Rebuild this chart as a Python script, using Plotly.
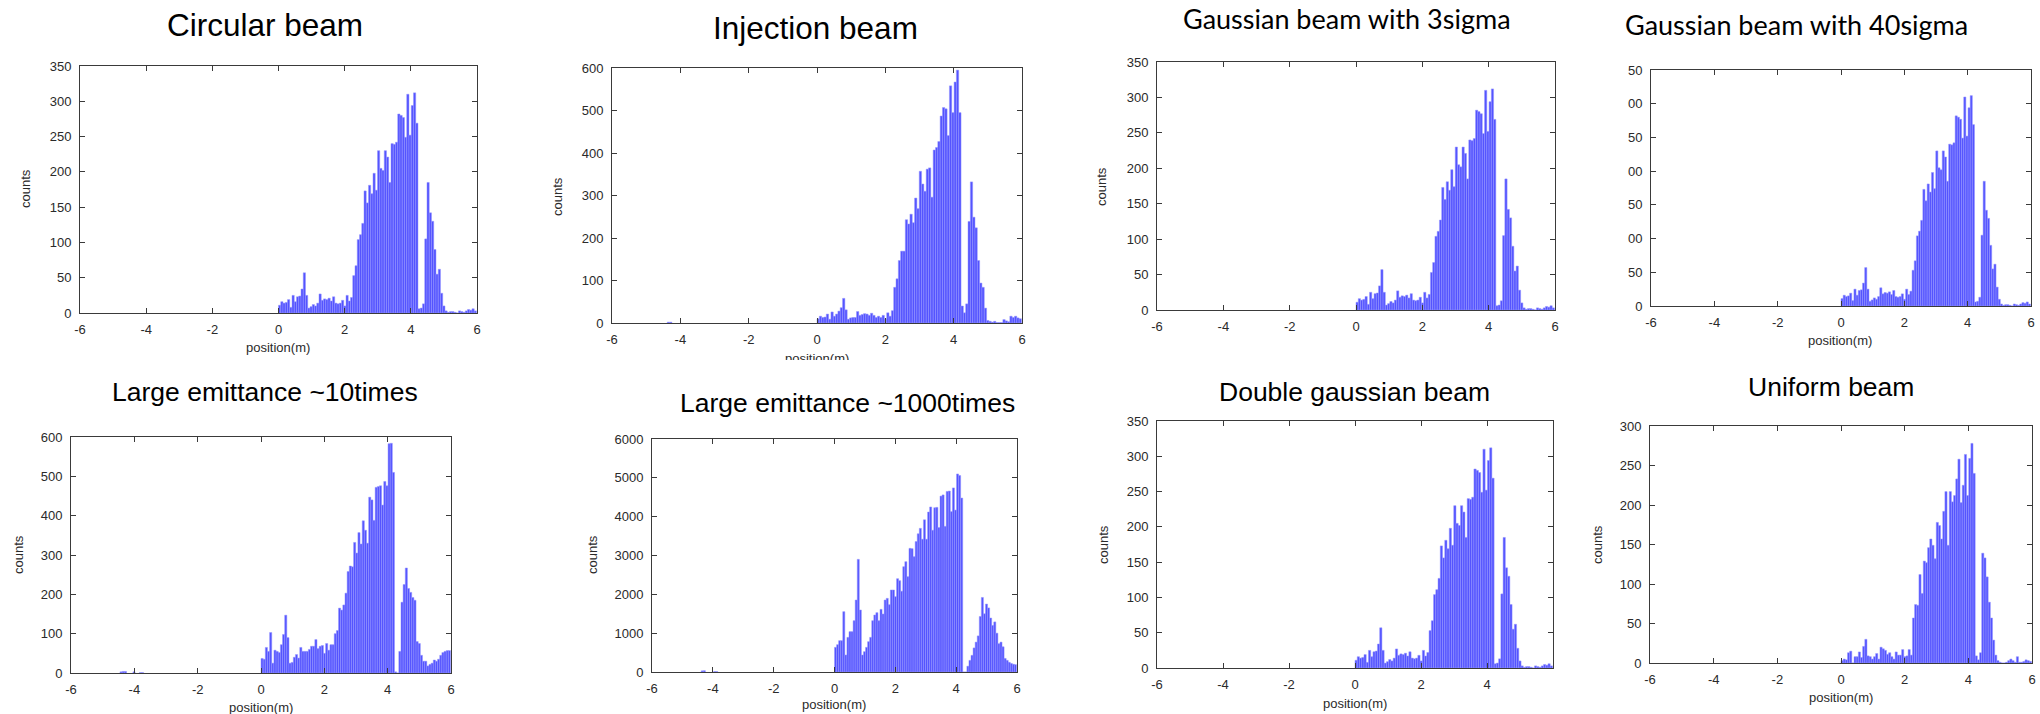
import plotly.graph_objects as go

# ---------------- data ----------------
BIN_START = 0.0
BIN_WIDTH = 0.068

x_tick_vals = [-6, -4, -2, 0, 2, 4, 6]
x_tick_text = ["-6", "-4", "-2", "0", "2", "4", "6"]

circular_counts = [
    11, 16, 14, 15, 19, 8, 25, 16, 23, 24, 34, 57, 25, 7, 9, 12, 10, 14, 27, 18,
    20, 19, 21, 17, 23, 14, 13, 14, 18, 10, 25, 17, 22,
    53, 67, 104, 111, 127, 173, 156, 181, 169, 198, 174, 230, 205, 202, 230, 221,
    185, 240, 239, 242, 282, 280, 277, 249, 310, 252, 294, 312, 269,
    6, 7, 13, 105, 185, 142, 130, 90, 55, 62, 28, 10, 3, 1, 2, 2, 1, 0, 3, 2, 1, 3,
    5, 4, 6, 3]

injection_counts = [
    10, 16, 13, 14, 21, 9, 26, 16, 21, 28, 36, 58, 31, 9, 12, 13, 13, 27, 18, 20,
    22, 21, 18, 23, 18, 13, 16, 13, 18, 10, 24, 16, 29,
    84, 104, 147, 169, 169, 243, 233, 256, 236, 294, 269, 357, 327, 310, 362, 365,
    296, 407, 413, 427, 487, 507, 504, 441, 558, 495, 567, 595, 495,
    40, 24, 45, 239, 332, 249, 224, 147, 94, 84, 35, 6, 4, 2, 4, 1, 1, 1, 8, 5, 3,
    16, 13, 16, 12, 10]
injection_neg_pos = [-4.35, -4.28]
injection_neg_counts = [2, 2]

# panels 3, 4 and 7 show the same histogram as the circular beam
gauss3sigma_counts = circular_counts
gauss40sigma_counts = circular_counts
double_gauss_counts = circular_counts

emit10_counts = [
    37, 35, 65, 55, 103, 25, 58, 55, 52, 72, 98, 147, 90, 25, 27, 40, 47, 38, 65, 55,
    55, 55, 60, 68, 68, 85, 62, 68, 70, 50, 75, 58, 72,
    72, 100, 108, 165, 160, 173, 203, 258, 272, 270, 332, 305, 357, 328, 387, 363,
    330, 447, 440, 388, 472, 474, 476, 427, 487, 476, 583, 584, 510,
    3, 0, 55, 180, 225, 267, 215, 205, 192, 185, 80, 75, 45, 30, 30, 18, 22, 25, 33,
    30, 35, 45, 52, 55, 57, 57]
emit10_neg_pos = [-4.42, -4.35, -4.28, -4.01, -3.81, -3.74]
emit10_neg_counts = [3, 4, 4, 3, 1, 1]

emit1000_counts = [
    635, 704, 807, 807, 1554, 438, 893, 1039, 1039, 1322, 1854, 2901, 1597, 438, 524,
    635, 781, 893, 1322, 1468, 1528, 1322, 1614, 1494, 1854, 1897, 1734, 2112, 2112,
    1940, 2403, 2352, 2080, 2712, 2841, 2455, 3185, 3176, 2970, 3360, 3560, 3700,
    3420, 3920, 3420, 4120, 4250, 3650, 4230, 4240, 3720, 4530, 4560, 3750, 4650,
    4660, 4130, 4740, 4170, 5100, 5060, 4480, 0, 0, 150, 300, 430, 620, 770, 930,
    1430, 1920, 1500, 1750, 1650, 1390, 1200, 1290, 1000, 730, 770, 650, 350, 300,
    250, 220, 200, 190]
emit1000_neg_pos = [-4.35, -4.28, -3.94, -3.87]
emit1000_neg_counts = [30, 35, 12, 10]

uniform_counts = [
    3, 5, 4, 13, 15, 0, 8, 8, 14, 7, 21, 30, 9, 8, 5, 8, 12, 5, 20, 18, 16, 11, 13, 8,
    5, 14, 10, 10, 17, 8, 9, 17, 10,
    57, 74, 73, 112, 88, 129, 127, 146, 157, 149, 132, 178, 174, 157, 192, 217, 149,
    217, 204, 212, 233, 258, 203, 225, 264, 212, 259, 278, 240,
    9, 4, 13, 139, 133, 109, 77, 57, 29, 10, 3, 1, 0, 0, 1, 3, 5, 3, 1, 8, 1, 1, 2, 4,
    3, 2]

titles = ["Circular beam", "Injection beam", "Gaussian beam with 3sigma",
          "Gaussian beam with 40sigma", "Large emittance ~10times",
          "Large emittance ~1000times", "Double gaussian beam", "Uniform beam"]
y_label = "counts"
x_label = "position(m)"
gauss40_ytick_text = ["0", "50", "00", "50", "00", "50", "00", "50"]  # clipped labels as shown

# ---------------- layout helpers ----------------
W, H = 2040, 714
SANS = "Liberation Sans, Arial, Helvetica, sans-serif"
CAL = "Lato, Carlito, Calibri, sans-serif"


def fx(v):
    return v / W


def fy(v):
    return 1 - v / H


panels = [
    dict(counts=circular_counts, neg=None, frame=(80, 66, 477, 313), ymax=350, dtick=50,
         title=(265, 25.5, SANS, 31.5), ylab=(26, 189), xlab=(278, 347)),
    dict(counts=injection_counts, neg=(injection_neg_pos, injection_neg_counts),
         frame=(612, 68, 1022, 323), ymax=600, dtick=100,
         title=(815, 28.3, SANS, 31.5), ylab=(557, 197), xlab=(817, 358)),
    dict(counts=gauss3sigma_counts, neg=None, frame=(1157, 62, 1555, 310), ymax=350, dtick=50,
         title=(1347, 18.5, CAL, 27), ylab=(1102, 187), xlab=None),
    dict(counts=gauss40sigma_counts, neg=None, frame=(1651, 70, 2031, 306), ymax=350, dtick=50,
         title=(1796, 25, CAL, 27), ylab=None, xlab=(1840, 340), yticktext=gauss40_ytick_text),
    dict(counts=emit10_counts, neg=(emit10_neg_pos, emit10_neg_counts),
         frame=(71, 437, 451, 673), ymax=600, dtick=100,
         title=(265, 391.7, SANS, 26.5), ylab=(18, 555), xlab=(261, 707)),
    dict(counts=emit1000_counts, neg=(emit1000_neg_pos, emit1000_neg_counts),
         frame=(652, 439, 1017, 672), ymax=6000, dtick=1000,
         title=(847, 402.8, SANS, 26.5), ylab=(592, 555), xlab=(834, 704)),
    dict(counts=double_gauss_counts, neg=None, frame=(1157, 421, 1553, 668), ymax=350, dtick=50,
         title=(1354, 392, SANS, 26.5), ylab=(1103, 545), xlab=(1355, 703), hide_last_x=True),
    dict(counts=uniform_counts, neg=None, frame=(1650, 426, 2032, 663), ymax=300, dtick=50,
         title=(1831, 387.2, SANS, 26.5), ylab=(1597, 545), xlab=(1841, 697)),
]

BAR_COLOR = "rgb(84,84,255)"
BAR_LINE = "rgb(150,150,255)"
AXIS_COLOR = "#3a3a3a"
TICK_FONT = dict(family=SANS, size=13, color="#2a2a2a")

fig = go.Figure()
annotations = []
layout_axes = {}

for i, (p, title) in enumerate(zip(panels, titles), start=1):
    xa = "x" if i == 1 else f"x{i}"
    ya = "y" if i == 1 else f"y{i}"
    fig.add_trace(go.Bar(
        x0=BIN_START + BIN_WIDTH / 2, dx=BIN_WIDTH, y=p["counts"], width=BIN_WIDTH,
        marker=dict(color=BAR_COLOR, line=dict(color=BAR_LINE, width=0.5)),
        xaxis=xa, yaxis=ya, showlegend=False, hoverinfo="skip"))
    if p["neg"] is not None:
        fig.add_trace(go.Bar(
            x=p["neg"][0], y=p["neg"][1], width=BIN_WIDTH,
            marker=dict(color=BAR_COLOR, line=dict(color=BAR_LINE, width=0.5)),
            xaxis=xa, yaxis=ya, showlegend=False, hoverinfo="skip"))

    x0, y0, x1, y1 = p["frame"]
    xtt = list(x_tick_text)
    if p.get("hide_last_x"):
        xtt[-1] = ""
    yvals = list(range(0, p["ymax"] + 1, p["dtick"]))
    ytt = p.get("yticktext", [str(v) for v in yvals])

    layout_axes["xaxis" if i == 1 else f"xaxis{i}"] = dict(
        domain=[fx(x0), fx(x1)], anchor=ya, range=[-6, 6],
        tickmode="array", tickvals=x_tick_vals, ticktext=xtt,
        ticks="inside", ticklen=5, tickcolor=AXIS_COLOR, tickwidth=1,
        showline=True, linecolor=AXIS_COLOR, linewidth=1, mirror="ticks",
        showgrid=False, zeroline=False, tickfont=TICK_FONT, ticklabelstandoff=4,
        fixedrange=True, automargin=False)
    layout_axes["yaxis" if i == 1 else f"yaxis{i}"] = dict(
        domain=[fy(y1), fy(y0)], anchor=xa, range=[0, p["ymax"]],
        tickmode="array", tickvals=yvals, ticktext=ytt,
        ticks="inside", ticklen=5, tickcolor=AXIS_COLOR, tickwidth=1,
        showline=True, linecolor=AXIS_COLOR, linewidth=1, mirror="ticks",
        showgrid=False, zeroline=False, tickfont=TICK_FONT, ticklabelstandoff=5,
        fixedrange=True, automargin=False)

    tx, ty, tfam, tsize = p["title"]
    annotations.append(dict(text=title, x=fx(tx), y=fy(ty), xref="paper", yref="paper",
                            xanchor="center", yanchor="middle", showarrow=False,
                            font=dict(family=tfam, size=tsize, color="#000000")))
    if p["ylab"] is not None:
        annotations.append(dict(text=y_label, x=fx(p["ylab"][0]), y=fy(p["ylab"][1]),
                                xref="paper", yref="paper", xanchor="center",
                                yanchor="middle", textangle=-90, showarrow=False,
                                font=dict(family=SANS, size=13, color="#2a2a2a")))
    if p["xlab"] is not None:
        annotations.append(dict(text=x_label, x=fx(p["xlab"][0]), y=fy(p["xlab"][1]),
                                xref="paper", yref="paper", xanchor="center",
                                yanchor="middle", showarrow=False,
                                font=dict(family=SANS, size=13, color="#2a2a2a")))

# white cover: the injection-beam x label is cut by the lower picture in the source
annotations.append(dict(text=" ", x=fx(750), y=fy(359.5), xref="paper", yref="paper",
                        xanchor="left", yanchor="top", showarrow=False, width=140,
                        height=20, bgcolor="white", borderpad=0, borderwidth=0))

fig.update_layout(
    width=W, height=H, margin=dict(l=0, r=0, t=0, b=0, autoexpand=False),
    paper_bgcolor="white", plot_bgcolor="white",
    bargap=0, barmode="overlay", annotations=annotations, **layout_axes)

fig.write_html("out.html",
               config={"displayModeBar": False, "staticPlot": True},
               post_script="document.body.style.margin='0';"
                           "document.body.style.overflow='hidden';")
